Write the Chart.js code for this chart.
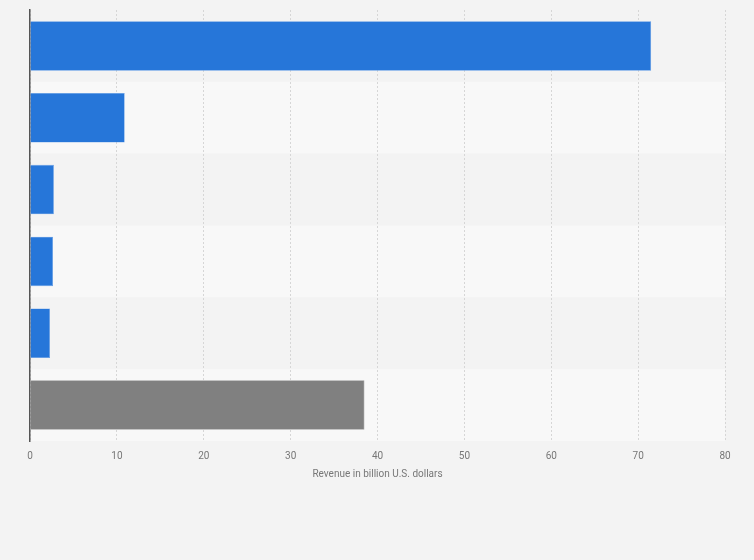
<!DOCTYPE html>
<html>
<head>
<meta charset="utf-8">
<script src="https://cdn.jsdelivr.net/npm/chart.js@4"></script>
<style>
  html, body { margin: 0; padding: 0; background: #f3f3f3; }
  #wrap { width: 754px; height: 560px; position: relative; }
</style>
</head>
<body>
<div id="wrap"><canvas id="chart"></canvas></div>
<script>
// categories are not printed in the picture, so ticks stay hidden
const categories = ['Item 1', 'Item 2', 'Item 3', 'Item 4', 'Item 5', 'Item 6'];
const revenue = [71.5, 10.9, 2.75, 2.65, 2.3, 38.5];
const barColors = ['#2676d9', '#2676d9', '#2676d9', '#2676d9', '#2676d9', '#808080'];
const xTicks = [0, 10, 20, 30, 40, 50, 60, 70, 80];

// alternating row shading behind grid and bars
const bands = {
  id: 'bands',
  beforeDraw(chart) {
    const { ctx, chartArea, scales } = chart;
    const y = scales.y;
    const step = y.getPixelForValue(1) - y.getPixelForValue(0);
    ctx.save();
    categories.forEach((c, i) => {
      const mid = y.getPixelForValue(i);
      ctx.fillStyle = i % 2 ? '#f8f8f8' : '#f3f3f3';
      ctx.fillRect(chartArea.left, mid - step / 2, chartArea.right - chartArea.left, step);
    });
    ctx.restore();
  }
};

new Chart(document.getElementById('chart'), {
  type: 'bar',
  data: {
    labels: categories,
    datasets: [{
      data: revenue,
      backgroundColor: barColors,
      borderColor: barColors.map(c => c === '#808080' ? '#9a9a9a' : '#5b98e6'),
      borderWidth: 0.6,
      barPercentage: 0.69,
      categoryPercentage: 1
    }]
  },
  options: {
    indexAxis: 'y',
    responsive: true,
    maintainAspectRatio: false,
    animation: false,
    layout: { padding: { left: 22, right: 29, top: 10, bottom: 76 } },
    plugins: { legend: { display: false }, tooltip: { enabled: false } },
    scales: {
      x: {
        min: 0, max: 80,
        afterBuildTicks(axis) { axis.ticks = xTicks.map(v => ({ value: v })); },
        grid: { color: '#d6d6d6', drawTicks: false },
        border: { display: false, dash: [2, 2] },
        ticks: { color: '#777', font: { family: 'Roboto', size: 10 }, padding: 9 },
        title: {
          display: true, text: 'Revenue in billion U.S. dollars',
          color: '#777', font: { family: 'Roboto', size: 10 }, padding: { top: -3 }
        }
      },
      y: {
        grid: { display: false },
        border: { display: true, color: '#555', width: 1.5 },
        ticks: { display: false }
      }
    }
  },
  plugins: [bands]
});
</script>
</body>
</html>
